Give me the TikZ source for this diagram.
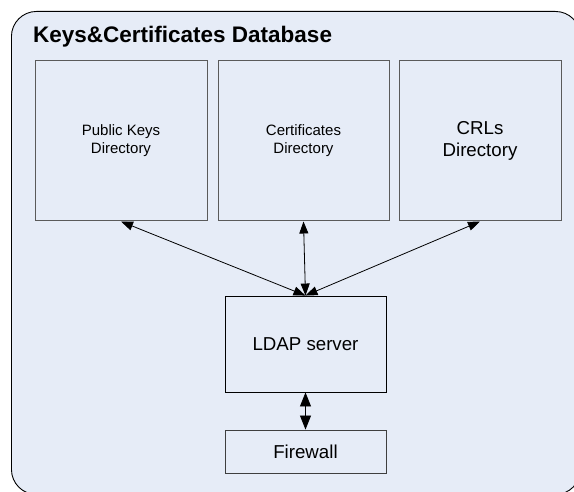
\documentclass[tikz,border=0pt]{standalone}
\usepackage{fontspec}
\setmainfont{Liberation Sans}
\usetikzlibrary{arrows.meta}
\definecolor{bgblue}{RGB}{230,236,247}
\definecolor{boxgray}{RGB}{90,90,90}
\begin{document}
\begin{tikzpicture}[x=1pt,y=-1pt,
  outerbox/.style={draw=black, line width=0.9pt, fill=bgblue, rounded corners=25pt, anchor=north west, inner sep=0pt},
  dirbox/.style={draw=boxgray, line width=1pt, minimum width=172pt, minimum height=160pt, inner sep=0pt, align=center},
  srvbox/.style={draw=black, line width=0.9pt, minimum width=161pt, inner sep=0pt, align=center},
  arr/.style={line width=0.8pt, {Triangle[length=12pt,width=9pt]}-{Triangle[length=12pt,width=9pt]}},
  bigarr/.style={line width=0.8pt, {Triangle[length=14pt,width=11pt]}-{Triangle[length=14pt,width=11pt]}}
]
\useasboundingbox (0,0) rectangle (574,492);
\clip (0,0) rectangle (574,492);
\fill[white] (0,0) rectangle (574,492);
\node[outerbox, minimum width=569pt, minimum height=483pt] (db) at (11,11) {};
\node[anchor=base west, inner sep=0pt, font=\fontsize{22.5}{25}\selectfont\bfseries] (title) at (33,43) {Keys\&Certificates Database};
\node[dirbox, font=\fontsize{15}{18}\selectfont] (pk) at (121,141) {Public Keys\\Directory};
\node[dirbox, minimum width=171pt, font=\fontsize{15}{18}\selectfont] (cert) at (303.5,141) {Certificates\\Directory};
\node[dirbox, minimum width=162pt, font=\fontsize{18.7}{22.5}\selectfont] (crl) at (480,141) {CRLs\\Directory};
\node[srvbox, minimum height=96pt, font=\fontsize{18.7}{22}\selectfont] (ldap) at (305.5,344) {LDAP server};
\node[srvbox, draw=boxgray!70!black, minimum height=43pt, font=\fontsize{18.7}{22}\selectfont] (fw) at (305.5,451.5) {Firewall};
\draw[arr] (pk.south) -- (ldap.north);
\draw[arr] (cert.south) -- (ldap.north);
\draw[arr] (crl.south) -- (ldap.north);
\draw[bigarr] (ldap.south) -- (fw.north);
\end{tikzpicture}
\end{document}
